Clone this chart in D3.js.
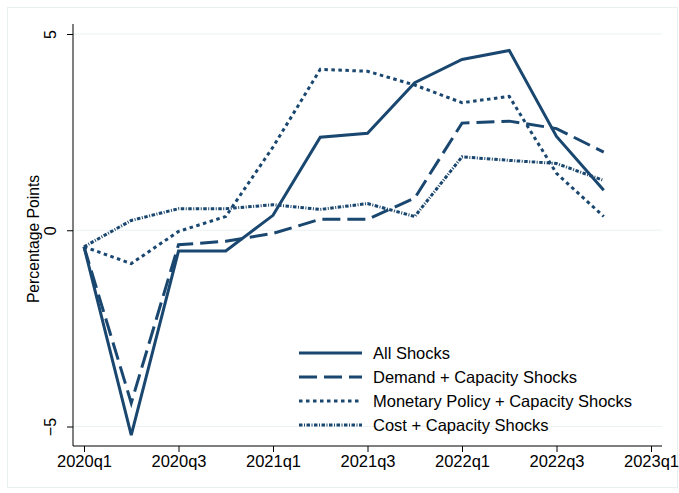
<!DOCTYPE html>
<html>
<head>
<meta charset="utf-8">
<script src="https://cdn.jsdelivr.net/npm/d3@7"></script>
<style>
  body { margin: 0; background: #fff; }
  svg { display: block; font-family: "Liberation Sans", Arial, sans-serif; }
</style>
</head>
<body>
<div id="chart"></div>
<script>
// quarters 2020q1 .. 2022q4 (index 0 = 2020q1)
const quarters = d3.range(12);
const tickQuarters = [0, 2, 4, 6, 8, 10, 12];
const tickLabels = ['2020q1', '2020q3', '2021q1', '2021q3', '2022q1', '2022q3', '2023q1'];
const yTicks = [-5, 0, 5];

const allShocks      = [-0.42, -5.22, -0.53, -0.53, 0.38, 2.37, 2.47, 3.76, 4.35, 4.58, 2.39, 1.02];
const demandShocks   = [-0.42, -4.40, -0.37, -0.28, -0.08, 0.28, 0.28, 0.82, 2.73, 2.78, 2.59, 1.99];
const monetaryShocks = [-0.42, -0.85, -0.03, 0.35, 2.12, 4.10, 4.05, 3.70, 3.25, 3.41, 1.45, 0.35];
const costShocks     = [-0.42, 0.25, 0.55, 0.55, 0.65, 0.53, 0.68, 0.35, 1.87, 1.78, 1.70, 1.27];

const seriesNames = ['All Shocks', 'Demand + Capacity Shocks', 'Monetary Policy + Capacity Shocks', 'Cost + Capacity Shocks'];
const seriesValues = [allShocks, demandShocks, monetaryShocks, costShocks];
const dashes = [null, '18,7', '3.5,3.5', '3.5,1.5,1,1.5'];

const width = 679, height = 493;
const navy = '#1a476f';

const svg = d3.select('#chart').append('svg')
    .attr('width', width)
    .attr('height', height);

// outer frame
svg.append('rect')
    .attr('x', 7.5).attr('y', 7.5)
    .attr('width', 670).attr('height', 480)
    .attr('fill', '#fff')
    .attr('stroke', '#e8eff1')
    .attr('stroke-width', 1);

const plot = { left: 73, right: 662, top: 24, bottom: 446 };

const x = d3.scaleLinear()
    .domain([0, 12])
    .range([84, 651]);

const y = d3.scaleLinear()
    .domain([-5, 5])
    .range([426.5, 34]);

// gridlines
svg.append('g')
    .selectAll('line')
    .data(yTicks)
    .enter()
    .append('line')
    .attr('x1', plot.left).attr('x2', plot.right)
    .attr('y1', d => y(d)).attr('y2', d => y(d))
    .attr('stroke', '#eaf2f3')
    .attr('stroke-width', 1.2);

// axes
const xAxis = d3.axisBottom(x)
    .tickValues(tickQuarters)
    .tickFormat((d, i) => tickLabels[i])
    .tickSizeInner(6)
    .tickSizeOuter(0)
    .tickPadding(3);

const gx = svg.append('g')
    .attr('transform', `translate(0, ${plot.bottom})`)
    .call(xAxis);
gx.select('.domain').remove();
gx.append('line')
    .attr('x1', plot.left).attr('x2', plot.right)
    .attr('stroke', '#000').attr('stroke-width', 1);
gx.selectAll('.tick line').attr('stroke', '#000');
gx.selectAll('.tick text')
    .attr('fill', '#000')
    .style('font-size', '16.5px')
    .style('font-family', '"Liberation Sans", Arial, sans-serif');

const yAxis = d3.axisLeft(y)
    .tickValues(yTicks)
    .tickSizeInner(6)
    .tickSizeOuter(0)
    .tickPadding(3);

const gy = svg.append('g')
    .attr('transform', `translate(${plot.left}, 0)`)
    .call(yAxis);
gy.select('.domain').remove();
gy.append('line')
    .attr('y1', plot.top).attr('y2', plot.bottom)
    .attr('stroke', '#000').attr('stroke-width', 1);
gy.selectAll('.tick line').attr('stroke', '#000');
gy.selectAll('.tick text')
    .attr('fill', '#000')
    .attr('x', 0).attr('y', 0).attr('dy', 0)
    .attr('text-anchor', 'middle')
    .attr('transform', 'translate(-17, 0) rotate(-90)')
    .style('font-size', '16px')
    .style('font-family', '"Liberation Sans", Arial, sans-serif');

// y axis title
svg.append('text')
    .attr('transform', `translate(39, ${(plot.top + plot.bottom) / 2 + 4}) rotate(-90)`)
    .attr('text-anchor', 'middle')
    .style('font-size', '15.7px')
    .text('Percentage Points');

// lines
const line = d3.line()
    .x((d, i) => x(quarters[i]))
    .y(d => y(d));

svg.append('g')
    .selectAll('path')
    .data(seriesValues)
    .enter()
    .append('path')
    .attr('d', line)
    .attr('fill', 'none')
    .attr('stroke', navy)
    .attr('stroke-width', 3)
    .attr('stroke-linejoin', 'miter')
    .attr('stroke-dasharray', (_, i) => dashes[i]);

// legend
const legend = svg.append('g')
    .attr('transform', 'translate(299, 353)');

const row = legend.selectAll('g')
    .data(seriesNames)
    .enter()
    .append('g')
    .attr('transform', (_, i) => `translate(0, ${i * 24})`);

row.append('line')
    .attr('x1', 0).attr('x2', 63)
    .attr('stroke', navy)
    .attr('stroke-width', 3)
    .attr('stroke-dasharray', (_, i) => dashes[i]);

row.append('text')
    .attr('x', 74)
    .attr('dy', '0.35em')
    .style('font-size', '16.5px')
    .text(d => d);
</script>
</body>
</html>
